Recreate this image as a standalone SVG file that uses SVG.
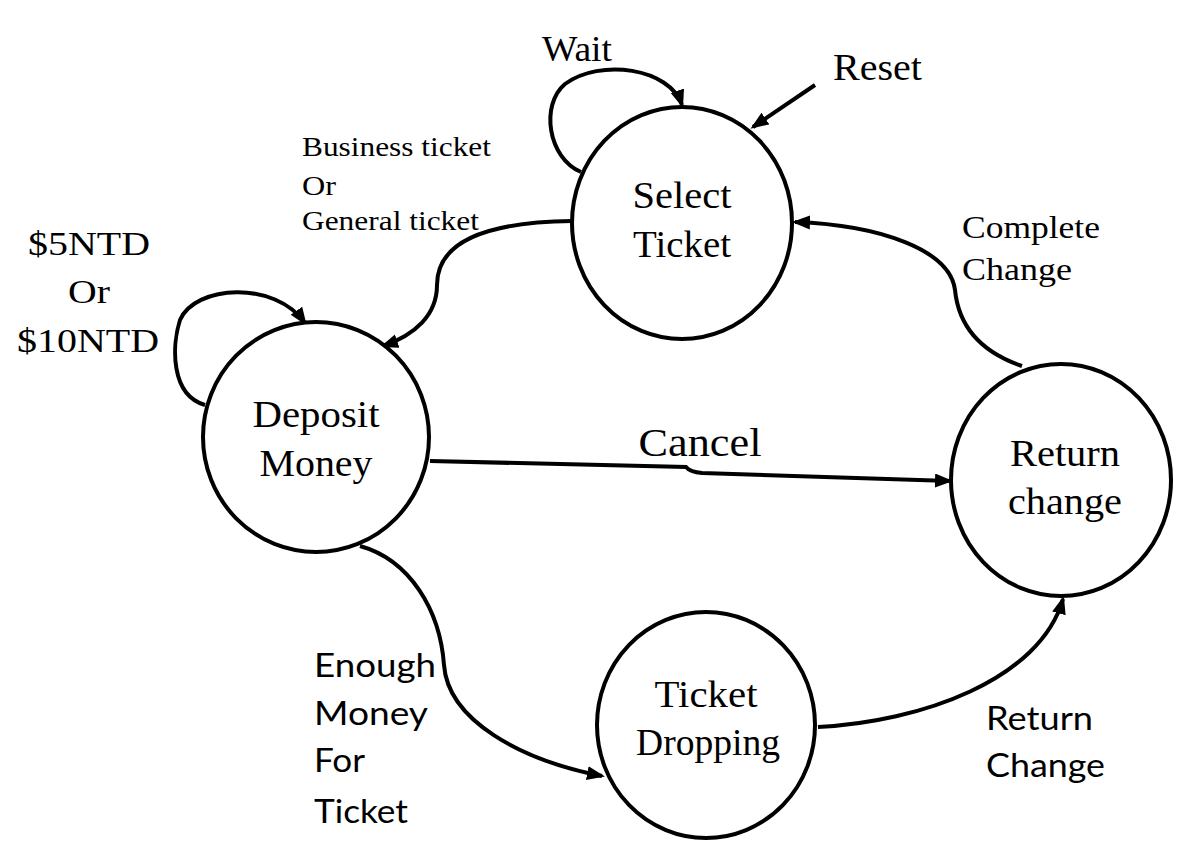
<svg xmlns="http://www.w3.org/2000/svg" width="1186" height="841" viewBox="0 0 1186 841">
<style>
.st{fill:#fff;stroke:#000;stroke-width:4}
.sf{font-family:"Liberation Serif","Times New Roman",serif;fill:#000}
.ss{font-family:Lato,"Liberation Sans",sans-serif;fill:#000}
.c{fill:none;stroke:#000;stroke-width:4;marker-end:url(#ah)}
</style>
<defs>
<marker id="ah" markerUnits="userSpaceOnUse" markerWidth="20" markerHeight="16" refX="15" refY="7" orient="auto">
<path d="M0,0 L18,7 L0,14 z" fill="#000"/>
</marker>
</defs>
<rect width="1186" height="841" fill="#fff"/>
<g id="connectors">
<path class="c" d="M581 172 C548 158 540 105 565 84 C600 58 670 68 682 105"/>
<path class="c" d="M815 85 L753 127"/>
<path class="c" d="M572 221 C490 222 437 240 437 285 C437 315 415 335 383 346"/>
<path class="c" d="M205 405 C170 395 172 345 180 320 C195 285 275 280 305 323"/>
<path class="c" d="M430 461 L686 467 Q690 472 702 473 L950 481"/>
<path class="c" d="M360 546 C410 560 440 610 444 665 C448 720 520 760 602 776"/>
<path class="c" d="M818 727 C920 722 1040 680 1063 599"/>
<path class="c" d="M1022 366 C975 350 958 320 955 290 C950 250 880 225 795 222"/>
</g>
<g id="select-ticket">
<ellipse class="st" cx="682" cy="223" rx="110" ry="116"/>
<text class="sf" x="682" y="208" font-size="37" text-anchor="middle" textLength="99" lengthAdjust="spacingAndGlyphs">Select</text>
<text class="sf" x="682" y="257" font-size="37" text-anchor="middle" textLength="98" lengthAdjust="spacingAndGlyphs">Ticket</text>
</g>
<g id="deposit-money">
<ellipse class="st" cx="316" cy="437" rx="113" ry="115"/>
<text class="sf" x="316" y="427" font-size="37" text-anchor="middle" textLength="127" lengthAdjust="spacingAndGlyphs">Deposit</text>
<text class="sf" x="316" y="476" font-size="37" text-anchor="middle" textLength="113" lengthAdjust="spacingAndGlyphs">Money</text>
</g>
<g id="return-change">
<ellipse class="st" cx="1061" cy="480" rx="110" ry="116"/>
<text class="sf" x="1065" y="466" font-size="37" text-anchor="middle" textLength="110" lengthAdjust="spacingAndGlyphs">Return</text>
<text class="sf" x="1065" y="514" font-size="37" text-anchor="middle" textLength="114" lengthAdjust="spacingAndGlyphs">change</text>
</g>
<g id="ticket-dropping">
<ellipse class="st" cx="706" cy="725" rx="109" ry="113"/>
<text class="sf" x="706" y="707" font-size="37" text-anchor="middle" textLength="103" lengthAdjust="spacingAndGlyphs">Ticket</text>
<text class="sf" x="708" y="755" font-size="37" text-anchor="middle" textLength="144" lengthAdjust="spacingAndGlyphs">Dropping</text>
</g>
<g id="labels">
<text class="sf" x="542" y="61" font-size="35" textLength="70" lengthAdjust="spacingAndGlyphs">Wait</text>
<text class="sf" x="833" y="80" font-size="38" textLength="89" lengthAdjust="spacingAndGlyphs">Reset</text>
<text class="sf" x="302" y="156" font-size="27" textLength="189" lengthAdjust="spacingAndGlyphs">Business ticket</text>
<text class="sf" x="302" y="195" font-size="27" textLength="34" lengthAdjust="spacingAndGlyphs">Or</text>
<text class="sf" x="302" y="230" font-size="27" textLength="177" lengthAdjust="spacingAndGlyphs">General ticket</text>
<text class="sf" x="89" y="255" font-size="34" text-anchor="middle" textLength="122" lengthAdjust="spacingAndGlyphs">$5NTD</text>
<text class="sf" x="89" y="303" font-size="34" text-anchor="middle" textLength="42" lengthAdjust="spacingAndGlyphs">Or</text>
<text class="sf" x="88" y="352" font-size="34" text-anchor="middle" textLength="142" lengthAdjust="spacingAndGlyphs">$10NTD</text>
<text class="sf" x="700" y="456" font-size="39" text-anchor="middle" textLength="123" lengthAdjust="spacingAndGlyphs">Cancel</text>
<text class="sf" x="962" y="238" font-size="31" textLength="138" lengthAdjust="spacingAndGlyphs">Complete</text>
<text class="sf" x="962" y="280" font-size="31" textLength="110" lengthAdjust="spacingAndGlyphs">Change</text>
<text class="ss" x="314" y="677" font-size="32" textLength="122" lengthAdjust="spacingAndGlyphs">Enough</text>
<text class="ss" x="314" y="725" font-size="32" textLength="114" lengthAdjust="spacingAndGlyphs">Money</text>
<text class="ss" x="314" y="772" font-size="32" textLength="51" lengthAdjust="spacingAndGlyphs">For</text>
<text class="ss" x="314" y="823" font-size="32" textLength="94" lengthAdjust="spacingAndGlyphs">Ticket</text>
<text class="ss" x="986" y="730" font-size="32" textLength="107" lengthAdjust="spacingAndGlyphs">Return</text>
<text class="ss" x="986" y="777" font-size="32" textLength="119" lengthAdjust="spacingAndGlyphs">Change</text>
</g>
</svg>
